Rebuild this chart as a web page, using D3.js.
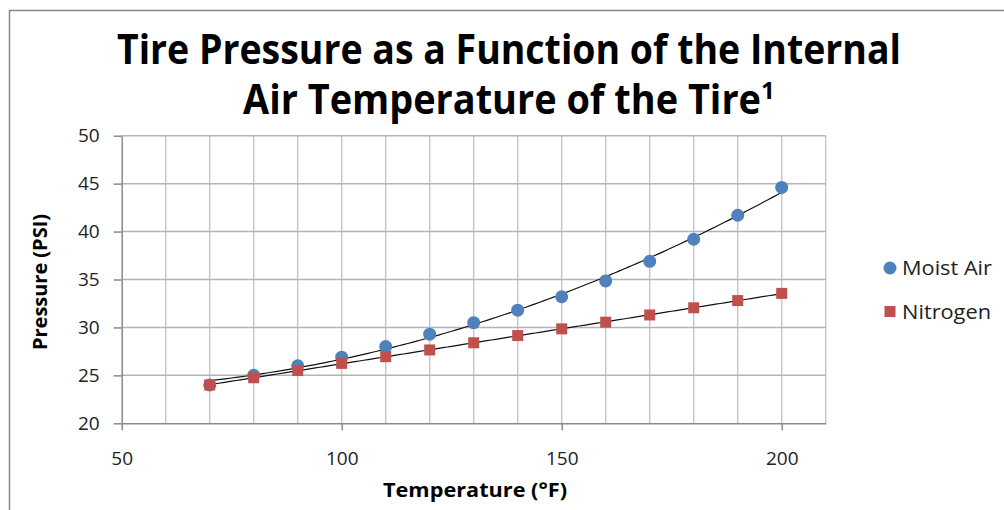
<!DOCTYPE html>
<html><head><meta charset="utf-8">
<script src="https://cdn.jsdelivr.net/npm/d3@7"></script>
<style>body{margin:0;background:#fff}svg{display:block}</style>
</head><body>
<svg id="c" width="1004" height="510"></svg>
<script>
const temps = [70,80,90,100,110,120,130,140,150,160,170,180,190,200];
const moistAir = [24.0,25.0,26.0,26.9,28.0,29.3,30.5,31.8,33.2,34.85,36.9,39.2,41.7,44.6];
const nitrogen = [24.0,24.75,25.5,26.25,26.95,27.65,28.4,29.15,29.85,30.55,31.3,32.05,32.8,33.55];
const xTicks = [50,100,150,200];
const xGrid = [60,70,80,90,100,110,120,130,140,150,160,170,180,190,200,210];
const yTicks = [20,25,30,35,40,45,50];
const seriesNames = ["Moist Air","Nitrogen"];
const seriesColors = ["#4F81BD","#C0504D"];

const svg = d3.select("#c");
const x = d3.scaleLinear().domain([50,210]).range([121.7,825.7]);
const y = d3.scaleLinear().domain([20,50]).range([423.3,135.7]);

svg.append("path").attr("d","M9.5,510 V10.5 H1004").attr("fill","none").attr("stroke","#888").attr("stroke-width",1.5);

const g = svg.append("g");
g.selectAll(".vg").data(xGrid).join("line")
  .attr("x1",d=>x(d)).attr("x2",d=>x(d)).attr("y1",y(20)).attr("y2",y(50))
  .attr("stroke","#c8c8c8").attr("stroke-width",1.5);
g.selectAll(".hg").data(yTicks.filter(d=>d>20)).join("line")
  .attr("x1",x(50)).attr("x2",x(210)).attr("y1",d=>y(d)).attr("y2",d=>y(d))
  .attr("stroke","#b4b4b4").attr("stroke-width",1.5);

const lf = "Open Sans, sans-serif";
const yAxis = d3.axisLeft(y).tickValues(yTicks).tickSize(8).tickSizeOuter(0).tickPadding(14);
const ya = svg.append("g").attr("transform",`translate(${x(50)},0)`).call(yAxis);
ya.select(".domain").attr("stroke","#8a8a8a").attr("stroke-width",1.5);
ya.selectAll(".tick line").attr("stroke","#8a8a8a").attr("stroke-width",1.5);
ya.selectAll("text").attr("font-family",lf).attr("font-size",19).attr("fill","#222");

const xAxis = d3.axisBottom(x).tickValues(xTicks).tickSize(7).tickSizeOuter(0).tickPadding(21);
const xa = svg.append("g").attr("transform",`translate(0,${y(20)})`).call(xAxis);
xa.select(".domain").attr("stroke","#8a8a8a").attr("stroke-width",1.5);
xa.selectAll(".tick line").attr("stroke","#8a8a8a").attr("stroke-width",1.5);
xa.selectAll("text").attr("font-family",lf).attr("font-size",19).attr("fill","#222");

function quadFit(xs, ys){
  let n=xs.length,s=[0,0,0,0,0],t=[0,0,0];
  for(let i=0;i<n;i++){const a=xs[i],b=ys[i];
    for(let k=0;k<5;k++) s[k]+=Math.pow(a,k);
    for(let k=0;k<3;k++) t[k]+=b*Math.pow(a,k);}
  const M=[[s[0],s[1],s[2],t[0]],[s[1],s[2],s[3],t[1]],[s[2],s[3],s[4],t[2]]];
  for(let i=0;i<3;i++){for(let j=i+1;j<3;j++){const f=M[j][i]/M[i][i];for(let k=i;k<4;k++)M[j][k]-=f*M[i][k];}}
  const c=[0,0,0];
  for(let i=2;i>=0;i--){let v=M[i][3];for(let k=i+1;k<3;k++)v-=M[i][k]*c[k];c[i]=v/M[i][i];}
  return v=>c[0]+c[1]*v+c[2]*v*v;
}
const line = d3.line().x(d=>x(d[0])).y(d=>y(d[1]));
[moistAir,nitrogen].forEach(vals=>{
  const f = quadFit(temps, vals);
  const pts = d3.range(70,200.01,1).map(v=>[v,f(v)]);
  svg.append("path").attr("d",line(pts)).attr("fill","none").attr("stroke","#111").attr("stroke-width",1.2);
});

svg.selectAll(".m").data(temps.map((t,i)=>[t,moistAir[i]])).join("circle")
  .attr("cx",d=>x(d[0])).attr("cy",d=>y(d[1])).attr("r",6.5).attr("fill",seriesColors[0]);
svg.selectAll(".n").data(temps.map((t,i)=>[t,nitrogen[i]])).join("rect")
  .attr("x",d=>x(d[0])-5.5).attr("y",d=>y(d[1])-5.5).attr("width",11).attr("height",11).attr("fill",seriesColors[1]);

const tf = "'Open Sans', sans-serif";
svg.append("text").attr("x",117).attr("y",64)
  .attr("font-family",tf).attr("font-weight","bold").attr("font-size",42).attr("fill","#000")
  .attr("textLength",784).attr("lengthAdjust","spacingAndGlyphs")
  .text("Tire Pressure as a Function of the Internal");
const t2 = svg.append("text").attr("x",243).attr("y",114)
  .attr("font-family",tf).attr("font-weight","bold").attr("font-size",42).attr("fill","#000");
t2.append("tspan").attr("textLength",518).attr("lengthAdjust","spacingAndGlyphs").text("Air Temperature of the Tire");
t2.append("tspan").attr("font-size",24).attr("dy",-15).text("1");

svg.append("text").attr("x",383).attr("y",497)
  .attr("font-family",tf).attr("font-weight","bold").attr("font-size",20).attr("fill","#000")
  .attr("textLength",184).attr("lengthAdjust","spacingAndGlyphs")
  .text("Temperature (°F)");
svg.append("text").attr("transform","translate(47,350) rotate(-90)")
  .attr("font-family",tf).attr("font-weight","bold").attr("font-size",20).attr("fill","#000")
  .attr("textLength",136).attr("lengthAdjust","spacingAndGlyphs")
  .text("Pressure (PSI)");

const lg = svg.append("g");
lg.append("circle").attr("cx",890).attr("cy",268).attr("r",6.5).attr("fill",seriesColors[0]);
lg.append("rect").attr("x",884.5).attr("y",306).attr("width",11).attr("height",11).attr("fill",seriesColors[1]);
lg.selectAll("text").data(seriesNames).join("text")
  .attr("x",902).attr("y",(d,i)=>275+i*44)
  .attr("font-family",lf).attr("font-size",20).attr("fill","#222")
  .attr("textLength",(d,i)=>[90,89][i]).attr("lengthAdjust","spacingAndGlyphs")
  .text(d=>d);
</script>
</body></html>
